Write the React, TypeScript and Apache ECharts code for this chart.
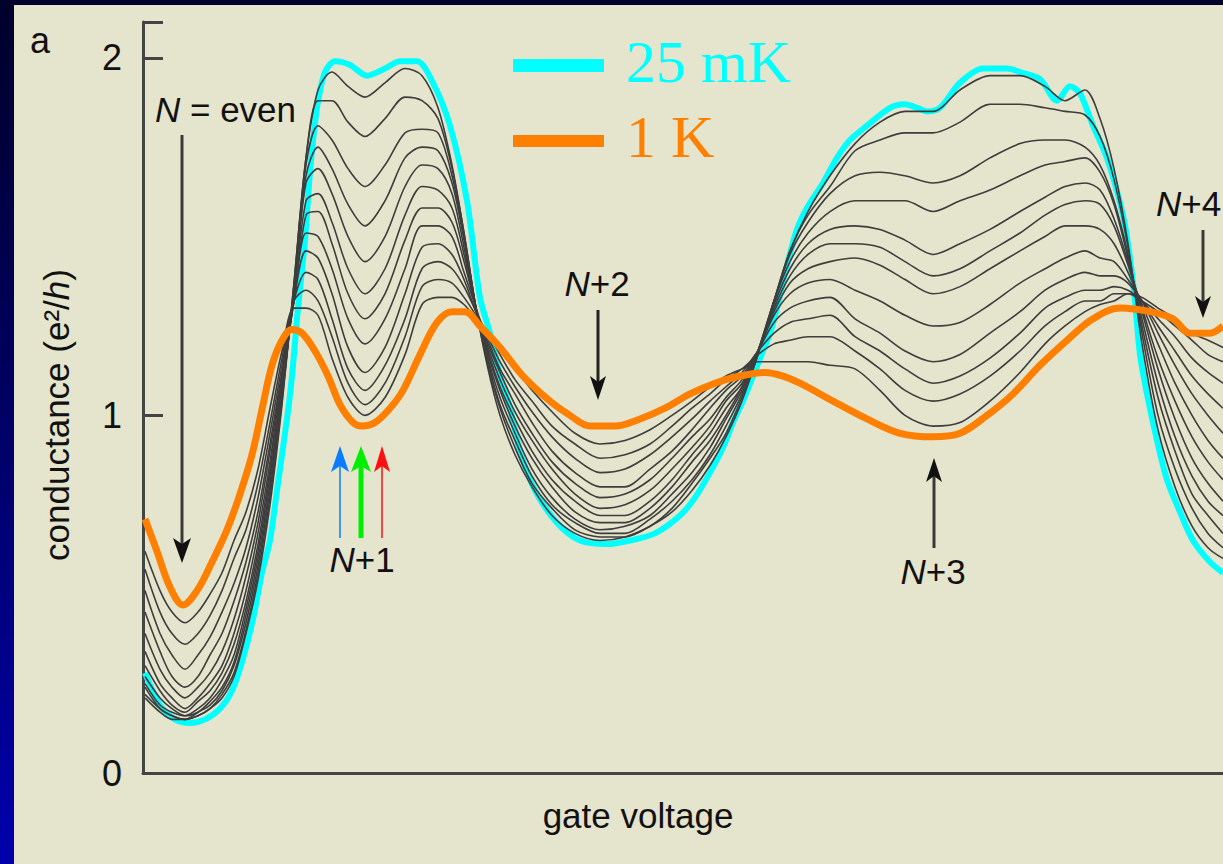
import React, { useEffect, useRef } from "react";
import * as echarts from "echarts";

// gate voltage (arbitrary units) sample positions shared by the intermediate-temperature traces
const gateV = [0.02,0.17,0.29,0.42,0.55,0.67,0.79,0.91,1.03,1.15,1.27,1.39,1.51,1.63,1.75,1.89,2.05,2.22,2.42,2.62,2.79,2.95,3.09,3.21,3.33,3.45,3.57,3.72,3.89,4.09,4.32,4.57,4.82,5.07,5.29,5.49,5.67,5.83,5.99,6.15,6.31,6.47,6.65,6.87,7.12,7.37,7.62,7.90,8.17,8.47,8.77,9.02,9.22,9.42,9.57,9.71,9.85,9.99,10.15,10.32,10.49,10.65,10.80];

// intermediate temperatures (grey traces), coldest first
const g1 = [0.21,0.17,0.15,0.15,0.16,0.18,0.21,0.27,0.39,0.54,0.75,1.03,1.37,1.72,1.91,1.96,1.92,1.89,1.93,1.97,1.95,1.86,1.70,1.51,1.30,1.13,1.00,0.89,0.80,0.72,0.67,0.65,0.66,0.69,0.73,0.79,0.86,0.94,1.04,1.17,1.32,1.46,1.57,1.67,1.76,1.82,1.85,1.85,1.91,1.95,1.95,1.92,1.88,1.91,1.83,1.69,1.48,1.20,0.96,0.80,0.69,0.63,0.60];
const g2 = [0.22,0.18,0.16,0.15,0.16,0.18,0.22,0.28,0.40,0.56,0.77,1.04,1.37,1.72,1.88,1.88,1.82,1.78,1.83,1.89,1.88,1.83,1.69,1.51,1.30,1.14,1.02,0.91,0.81,0.74,0.68,0.66,0.66,0.69,0.74,0.81,0.88,0.95,1.05,1.17,1.32,1.46,1.56,1.64,1.74,1.77,1.79,1.79,1.82,1.87,1.87,1.86,1.85,1.84,1.78,1.66,1.47,1.23,1.00,0.85,0.74,0.67,0.63];
const g3 = [0.24,0.18,0.16,0.15,0.17,0.19,0.23,0.30,0.42,0.58,0.79,1.05,1.36,1.70,1.81,1.77,1.69,1.64,1.70,1.79,1.80,1.79,1.67,1.50,1.30,1.15,1.03,0.93,0.83,0.75,0.70,0.67,0.67,0.71,0.76,0.82,0.89,0.97,1.06,1.18,1.32,1.45,1.54,1.62,1.67,1.68,1.67,1.65,1.67,1.72,1.76,1.77,1.77,1.75,1.70,1.60,1.45,1.25,1.05,0.90,0.78,0.72,0.67];
const g4 = [0.25,0.19,0.17,0.16,0.17,0.20,0.24,0.31,0.44,0.60,0.81,1.06,1.35,1.67,1.75,1.69,1.59,1.53,1.60,1.72,1.75,1.74,1.65,1.49,1.30,1.16,1.05,0.95,0.85,0.77,0.71,0.68,0.69,0.72,0.78,0.84,0.91,0.99,1.07,1.18,1.32,1.43,1.51,1.57,1.60,1.60,1.60,1.57,1.60,1.63,1.67,1.70,1.71,1.72,1.68,1.59,1.44,1.27,1.09,0.94,0.83,0.76,0.72];
const g5 = [0.27,0.21,0.18,0.16,0.18,0.21,0.26,0.33,0.46,0.62,0.83,1.08,1.34,1.65,1.69,1.62,1.50,1.43,1.50,1.64,1.70,1.69,1.62,1.47,1.30,1.17,1.07,0.97,0.88,0.80,0.73,0.70,0.70,0.74,0.80,0.87,0.93,1.00,1.08,1.18,1.31,1.41,1.48,1.52,1.53,1.52,1.49,1.45,1.48,1.52,1.57,1.61,1.64,1.65,1.63,1.55,1.43,1.29,1.13,0.99,0.88,0.81,0.76];
const g6 = [0.30,0.23,0.19,0.17,0.20,0.23,0.28,0.36,0.48,0.64,0.85,1.09,1.33,1.60,1.62,1.54,1.41,1.34,1.41,1.56,1.64,1.63,1.58,1.45,1.30,1.18,1.08,0.99,0.90,0.82,0.76,0.72,0.72,0.76,0.82,0.89,0.95,1.02,1.08,1.18,1.30,1.39,1.45,1.48,1.48,1.47,1.43,1.39,1.41,1.46,1.51,1.56,1.59,1.60,1.59,1.53,1.42,1.30,1.16,1.04,0.94,0.87,0.82];
const g7 = [0.34,0.25,0.21,0.18,0.21,0.25,0.30,0.39,0.51,0.67,0.87,1.10,1.32,1.56,1.57,1.48,1.34,1.27,1.34,1.49,1.58,1.58,1.54,1.43,1.30,1.19,1.10,1.01,0.93,0.85,0.78,0.74,0.75,0.79,0.85,0.91,0.97,1.04,1.09,1.18,1.29,1.37,1.41,1.43,1.44,1.42,1.38,1.34,1.36,1.41,1.46,1.50,1.53,1.53,1.52,1.48,1.40,1.31,1.20,1.09,1.00,0.93,0.88];
const g8 = [0.39,0.29,0.24,0.21,0.24,0.28,0.34,0.43,0.55,0.70,0.90,1.11,1.32,1.51,1.50,1.41,1.27,1.20,1.27,1.41,1.53,1.53,1.50,1.40,1.30,1.20,1.12,1.03,0.95,0.87,0.81,0.77,0.78,0.82,0.88,0.94,0.99,1.05,1.10,1.18,1.28,1.34,1.37,1.38,1.35,1.32,1.28,1.25,1.26,1.31,1.37,1.41,1.44,1.46,1.44,1.43,1.38,1.32,1.23,1.14,1.06,1.00,0.95];
const g9 = [0.45,0.34,0.27,0.24,0.27,0.33,0.39,0.48,0.59,0.73,0.92,1.12,1.32,1.46,1.44,1.34,1.19,1.12,1.19,1.34,1.47,1.48,1.45,1.38,1.29,1.21,1.13,1.06,0.98,0.90,0.84,0.80,0.80,0.85,0.90,0.96,1.02,1.07,1.11,1.18,1.26,1.30,1.32,1.33,1.27,1.23,1.18,1.15,1.17,1.23,1.29,1.35,1.38,1.40,1.39,1.39,1.37,1.32,1.25,1.18,1.11,1.06,1.02];
const g10 = [0.51,0.39,0.33,0.29,0.33,0.38,0.45,0.53,0.63,0.77,0.95,1.14,1.32,1.40,1.38,1.27,1.13,1.07,1.14,1.27,1.41,1.43,1.41,1.36,1.29,1.22,1.15,1.08,1.01,0.94,0.88,0.84,0.85,0.89,0.94,0.99,1.04,1.08,1.12,1.18,1.23,1.26,1.27,1.28,1.22,1.18,1.13,1.09,1.11,1.16,1.23,1.30,1.33,1.35,1.35,1.36,1.35,1.32,1.27,1.22,1.16,1.12,1.09];
const g11 = [0.57,0.45,0.39,0.36,0.39,0.44,0.51,0.60,0.68,0.81,0.98,1.16,1.32,1.35,1.32,1.22,1.09,1.03,1.09,1.22,1.36,1.38,1.37,1.33,1.28,1.23,1.17,1.10,1.04,0.97,0.92,0.88,0.89,0.92,0.97,1.02,1.06,1.10,1.13,1.17,1.20,1.21,1.22,1.22,1.18,1.13,1.07,1.04,1.06,1.11,1.18,1.25,1.29,1.32,1.32,1.34,1.34,1.32,1.29,1.25,1.21,1.17,1.15];
const g12 = [0.62,0.51,0.45,0.42,0.45,0.50,0.56,0.65,0.73,0.85,1.02,1.18,1.30,1.30,1.28,1.16,1.05,1.00,1.05,1.17,1.31,1.33,1.33,1.31,1.27,1.23,1.18,1.13,1.07,1.01,0.95,0.92,0.93,0.96,1.00,1.04,1.08,1.11,1.13,1.15,1.15,1.15,1.15,1.14,1.13,1.07,1.00,0.97,0.98,1.04,1.12,1.20,1.25,1.29,1.31,1.32,1.34,1.33,1.30,1.27,1.23,1.21,1.19];

// 25 mK trace
const cyanX = [0.02,0.17,0.32,0.47,0.62,0.77,0.89,1.00,1.10,1.19,1.27,1.34,1.44,1.49,1.55,1.62,1.67,1.74,1.82,1.92,2.07,2.24,2.42,2.57,2.74,2.90,3.07,3.24,3.37,3.47,3.57,3.67,3.77,3.92,4.14,4.37,4.64,4.87,5.12,5.37,5.52,5.67,5.80,5.90,6.00,6.10,6.20,6.27,6.34,6.44,6.54,6.64,6.80,6.94,7.07,7.24,7.47,7.62,7.74,7.84,7.97,8.17,8.40,8.64,8.77,8.97,9.14,9.27,9.37,9.50,9.64,9.80,9.87,9.92,9.97,10.04,10.14,10.24,10.37,10.50,10.67,10.80];
const cyanG = [0.28,0.19,0.15,0.14,0.15,0.18,0.23,0.32,0.43,0.56,0.65,0.79,0.99,1.11,1.30,1.49,1.68,1.86,1.96,1.99,1.98,1.95,1.97,1.99,1.99,1.93,1.81,1.60,1.33,1.23,1.11,1.02,0.90,0.79,0.70,0.65,0.64,0.65,0.67,0.72,0.77,0.84,0.91,0.98,1.04,1.11,1.18,1.23,1.30,1.42,1.52,1.58,1.65,1.72,1.77,1.81,1.86,1.87,1.86,1.85,1.86,1.93,1.97,1.97,1.96,1.94,1.88,1.92,1.90,1.81,1.72,1.56,1.44,1.32,1.17,1.06,0.93,0.82,0.73,0.65,0.59,0.56];

// 1 K trace
const orangeX = [0.02,0.14,0.27,0.40,0.54,0.69,0.84,0.97,1.09,1.20,1.29,1.39,1.49,1.59,1.72,1.85,1.97,2.10,2.19,2.32,2.47,2.60,2.77,2.94,3.09,3.22,3.37,3.57,3.80,4.07,4.27,4.47,4.72,4.97,5.22,5.47,5.72,5.97,6.22,6.40,6.57,6.90,7.24,7.57,7.90,8.17,8.44,8.70,8.97,9.24,9.50,9.77,10.07,10.30,10.47,10.67,10.80];
const orangeG = [0.71,0.62,0.52,0.47,0.51,0.59,0.68,0.78,0.89,1.03,1.14,1.21,1.24,1.23,1.18,1.11,1.03,0.98,0.97,0.98,1.02,1.07,1.17,1.26,1.29,1.29,1.25,1.19,1.11,1.04,1.00,0.97,0.97,0.99,1.02,1.06,1.09,1.11,1.12,1.11,1.09,1.04,0.99,0.95,0.94,0.95,1.00,1.06,1.14,1.21,1.27,1.30,1.29,1.27,1.23,1.23,1.25];

const legendNames = ["25 mK", "1 K"];
const yTickLabels = ["0", "1", "2"];

const SANS = '"Liberation Sans", Arial, Helvetica, sans-serif';
const SERIF = '"Liberation Serif", "Times New Roman", Times, serif';
const CYAN = "#00ffff";
const ORANGE = "#ff8000";
const GREY = "#3d3d3d";

const pairs = (xs: number[], ys: number[]) =>
  xs.slice(0, Math.min(xs.length, ys.length)).map((x, i) => [x, ys[i]]);

const arrow = (x: number, tipY: number, tailY: number, color: string, width: number, headColor: string, headW = 9, headL = 25) => {
  const dir = tailY > tipY ? 1 : -1; // 1 = points up
  const back = tipY + dir * headL;
  const notch = tipY + dir * (headL - 6);
  return [
    { type: "line", silent: true, z: 20, shape: { x1: x, y1: tailY, x2: x, y2: notch }, style: { stroke: color, lineWidth: width } },
    {
      type: "polygon", silent: true, z: 21,
      shape: { points: [[x, tipY], [x + headW, back], [x, notch], [x - headW, back]] },
      style: { fill: headColor },
    },
  ];
};

const richN = {
  i: { fontFamily: SANS, fontSize: 35, fontStyle: "italic", fill: "#111" },
  n: { fontFamily: SANS, fontSize: 35, fill: "#111" },
};

export default function App() {
  const ref = useRef<HTMLDivElement>(null);

  useEffect(() => {
    if (!ref.current) return;
    const chart = echarts.init(ref.current, null, { renderer: "svg" });
    const greys = [g1, g2, g3, g4, g5, g6, g7, g8, g9, g10, g11, g12];

    const series: any[] = [
      {
        type: "line", name: legendNames[0], data: pairs(cyanX, cyanG), showSymbol: false, smooth: 0.3,
        lineStyle: { color: CYAN, width: 6 }, silent: true, z: 2,
      },
      ...greys.map((g, i) => ({
        type: "line", name: `T${i + 1}`, data: pairs(gateV, g), showSymbol: false, smooth: 0.3,
        lineStyle: { color: GREY, width: 1.6 }, silent: true, z: 3,
      })),
      {
        type: "line", name: legendNames[1], data: pairs(orangeX, orangeG), showSymbol: false, smooth: 0.35,
        lineStyle: { color: ORANGE, width: 7 }, silent: true, z: 4,
      },
    ];

    const textEl = (text: string, x: number, y: number, align = "center", rich: any = richN) => ({
      type: "text", silent: true, z: 30, x, y,
      style: { text, rich, align, verticalAlign: "middle", fontFamily: SANS, fontSize: 35, fill: "#111" },
    });

    const graphic: any[] = [
      { type: "text", silent: true, z: 30, x: 40, y: 40, style: { text: "a", fontFamily: SANS, fontSize: 36, fill: "#111", align: "center", verticalAlign: "middle" } },
      // legend
      { type: "rect", silent: true, z: 30, shape: { x: 513, y: 59, width: 91, height: 13 }, style: { fill: CYAN } },
      { type: "rect", silent: true, z: 30, shape: { x: 513, y: 135, width: 91, height: 12 }, style: { fill: ORANGE } },
      { type: "text", silent: true, z: 30, x: 626, y: 62, style: { text: legendNames[0], fontFamily: SERIF, fontSize: 60, fill: CYAN, align: "left", verticalAlign: "middle" } },
      { type: "text", silent: true, z: 30, x: 626, y: 137, style: { text: legendNames[1], fontFamily: SERIF, fontSize: 60, fill: ORANGE, align: "left", verticalAlign: "middle" } },
      // axis titles
      {
        type: "text", silent: true, z: 30, x: 56, y: 415, rotation: Math.PI / 2,
        style: {
          text: "{n|conductance (e²/}{i|h}{n|)}",
          rich: { n: { fontFamily: SANS, fontSize: 35, fill: "#111" }, i: { fontFamily: SANS, fontSize: 35, fontStyle: "italic", fill: "#111" } },
          align: "center", verticalAlign: "middle",
        },
      },
      { type: "text", silent: true, z: 30, x: 638, y: 815, style: { text: "gate voltage", fontFamily: SANS, fontSize: 35, fill: "#111", align: "center", verticalAlign: "middle" } },
      // annotations
      textEl("{i|N}{n| = even}", 155, 109, "left"),
      textEl("{i|N}{n|+1}", 362, 559),
      textEl("{i|N}{n|+2}", 597, 283),
      textEl("{i|N}{n|+3}", 933, 571),
      textEl("{i|N}{n|+4}", 1156, 203, "left"),
      ...arrow(182, 563, 135, "#3a3a3a", 3, "#111"),
      ...arrow(340, 446, 538, "#0a7cff", 1.5, "#0a7cff", 9, 26),
      ...arrow(361, 446, 538, "#00ee00", 5, "#00ee00", 10, 26),
      ...arrow(382, 446, 538, "#ff1010", 1.5, "#ff1010", 8, 26),
      ...arrow(598, 400, 310, "#222", 3, "#111", 8, 24),
      ...arrow(934, 458, 548, "#3a3a3a", 3, "#111", 8, 24),
      ...arrow(1203, 318, 230, "#3a3a3a", 3, "#111", 8, 22),
    ];

    chart.setOption({
      animation: false,
      backgroundColor: "transparent",
      textStyle: { fontFamily: SANS },
      grid: { left: 143, right: 0, top: 22, bottom: 91, containLabel: false },
      xAxis: {
        type: "value", min: 0, max: 10.8,
        axisLine: { show: true, onZero: false, lineStyle: { color: "#444", width: 3 } },
        axisTick: { show: false }, axisLabel: { show: false }, splitLine: { show: false },
      },
      yAxis: {
        type: "value", min: 0, max: 2.1, interval: 1,
        axisLine: { show: true, lineStyle: { color: "#444", width: 3 } },
        axisTick: { show: true, inside: true, length: 20, lineStyle: { color: "#444", width: 3 } },
        axisLabel: {
          show: true, margin: 21, fontSize: 36, color: "#111", fontFamily: SANS,
          formatter: (v: number) => (v > 2 ? "" : yTickLabels[Math.round(v)] ?? ""),
        },
        splitLine: { show: false },
      },
      series,
      graphic,
    });

    return () => chart.dispose();
  }, []);

  return (
    <div style={{ position: "fixed", left: 0, top: 0, width: 1223, height: 864, background: "linear-gradient(to bottom, #00002a 0%, #000060 45%, #0000ac 100%)", overflow: "hidden" }}>
      <div style={{ position: "absolute", left: 14, top: 5, right: 0, bottom: 0, background: "#e5e4cc" }} />
      <div ref={ref} style={{ position: "absolute", left: 0, top: 0, width: 1223, height: 864 }} />
    </div>
  );
}
